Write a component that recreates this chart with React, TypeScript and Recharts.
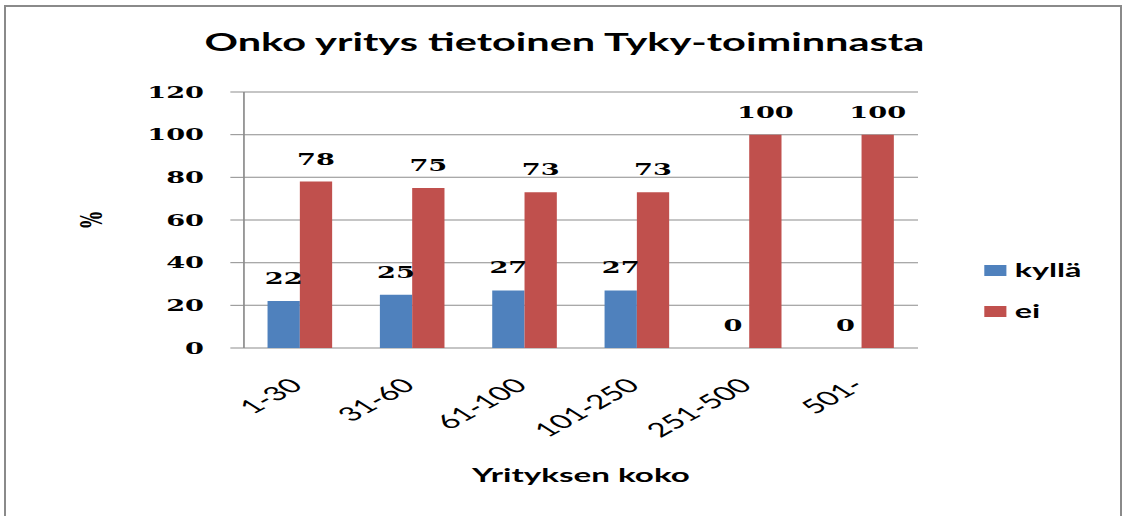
import React from 'react';
import { BarChart, Bar, XAxis, YAxis, CartesianGrid, Legend, LabelList } from 'recharts';

const categories = ['1-30', '31-60', '61-100', '101-250', '251-500', '501-'];
const kyllaValues = [22, 25, 27, 27, 0, 0];
const eiValues = [78, 75, 73, 73, 100, 100];
const yTicks = [0, 20, 40, 60, 80, 100, 120];
const seriesOrder = ['kyllä', 'ei'];
const edgeTicks = categories.map((_, i) => i).concat([categories.length]);

const data = categories.map((name, i) => ({ name, kylla: kyllaValues[i], ei: eiValues[i] }));

const SCALE = 1.7;
const W = 664;
const H = 516;
const GRID = '#8c8c8c';
const BLUE = '#4F81BD';
const RED = '#C0504D';
const NUM_FONT = '"DejaVu Serif", serif';
const SANS = 'Lato, "Open Sans", sans-serif';
const LABEL_OFFSET = 17;

const XTick = (props: any) => {
  const { x, y, payload } = props;
  const ax = x + 2.4;
  return (
    <text x={ax} y={y} transform={`rotate(-43, ${ax}, ${y})`} textAnchor="end" fontFamily={SANS} fontSize={19.5} fill="#000">
      {payload.value}
    </text>
  );
};

const labelText = (cx: number, baseY: number, value: any) => (
  <text x={cx} y={baseY - LABEL_OFFSET} textAnchor="middle" fontFamily={NUM_FONT} fontWeight={700} fontSize={16} fill="#000">
    {String(value)}
  </text>
);

// "ei" value label, above the red bar
const EiLabel = (props: any) => {
  const { x, y, width, value } = props;
  if (x == null || y == null) return null;
  return labelText(Number(x) + Number(width) / 2, Number(y), value);
};

// "kyllä" value label: the blue bar sits directly left of the red bar (barGap 0),
// its top is derived from the red bar's own scale (px per unit = height / ei value).
const KyllaLabel = (props: any) => {
  const { x, y, width, height, value, index } = props;
  if (x == null || y == null) return null;
  const ei = eiValues[index];
  const bottom = Number(y) + Number(height);
  const pxPerUnit = ei ? Number(height) / ei : 0;
  const top = bottom - Number(value) * pxPerUnit;
  return labelText(Number(x) - Number(width) / 2, top, value);
};

const LegendContent = (props: any) => {
  const payload = [...(props.payload || [])].sort(
    (a: any, b: any) => seriesOrder.indexOf(a.value) - seriesOrder.indexOf(b.value)
  );
  return (
    <div>
      {payload.map((p: any) => (
        <div key={p.value} style={{ display: 'flex', alignItems: 'center', height: 20, marginBottom: 21 }}>
          <span style={{ display: 'inline-block', width: 12.5, height: 11, background: p.color }} />
          <span style={{ marginLeft: 5, fontFamily: SANS, fontWeight: 700, fontSize: 19, color: '#000', lineHeight: '20px' }}>{p.value}</span>
        </div>
      ))}
    </div>
  );
};

export default function App() {
  return (
    <div style={{ position: 'absolute', left: 0, top: 0, width: 1128, height: 516, overflow: 'hidden', background: '#fff' }}>
      <div style={{ position: 'absolute', left: 4, top: 5, width: 1118, height: 530, border: '2px solid #8a8a8a', boxSizing: 'border-box' }} />
      <div style={{ position: 'absolute', left: 0, top: 0, width: W, height: H, transform: `scaleX(${SCALE})`, transformOrigin: '0 0' }}>
        <div style={{ position: 'absolute', left: 0, top: 30.4, width: W, textAlign: 'center', fontFamily: SANS, fontWeight: 700, fontSize: 24.4, lineHeight: '24px', color: '#000' }}>
          Onko yritys tietoinen Tyky-toiminnasta
        </div>
        <BarChart width={W} height={H} data={data} margin={{ top: 92, right: 124, bottom: 88, left: 0 }} barGap={0} barCategoryGap="21%">
          <CartesianGrid vertical={false} stroke={GRID} strokeWidth={1} />
          <XAxis
            xAxisId="edges"
            type="number"
            domain={[0, categories.length]}
            ticks={edgeTicks}
            tick={false}
            tickSize={12}
            height={0}
            allowDataOverflow
            axisLine={{ stroke: GRID }}
            tickLine={{ stroke: GRID }}
          />
          <XAxis
            xAxisId={0}
            dataKey="name"
            height={80}
            tickLine={false}
            axisLine={false}
            tickSize={0}
            tickMargin={39}
            interval={0}
            tick={<XTick />}
          />
          <YAxis
            domain={[0, 120]}
            ticks={yTicks}
            width={143.5}
            tickSize={8}
            tickMargin={15.5}
            axisLine={{ stroke: GRID }}
            tickLine={{ stroke: GRID }}
            tick={{ fontFamily: NUM_FONT, fontWeight: 700, fontSize: 16, fill: '#000' }}
            label={{
              content: (p: any) => {
                const vb = p.viewBox || {};
                const cx = (vb.x || 0) + 54;
                const cy = (vb.y || 0) + (vb.height || 0) / 2;
                return (
                  <text x={cx} y={cy} transform={`rotate(-90, ${cx}, ${cy})`} textAnchor="middle" dominantBaseline="central" fontFamily={NUM_FONT} fontWeight={700} fontSize={17} fill="#000">
                    %
                  </text>
                );
              },
            }}
          />
          <Legend
            layout="vertical"
            align="center"
            verticalAlign="middle"
            content={<LegendContent />}
            wrapperStyle={{ left: 579.4, top: 260, width: 80, right: 'auto', bottom: 'auto' }}
          />
          <Bar dataKey="kylla" name="kyllä" fill={BLUE} isAnimationActive={false} />
          <Bar dataKey="ei" name="ei" fill={RED} isAnimationActive={false}>
            <LabelList dataKey="kylla" content={KyllaLabel} />
            <LabelList dataKey="ei" content={EiLabel} />
          </Bar>
        </BarChart>
        <div style={{ position: 'absolute', left: 143.5, top: 464.7, width: 396.5, textAlign: 'center', fontFamily: SANS, fontWeight: 700, fontSize: 19.5, lineHeight: '19.5px', color: '#000' }}>
          Yrityksen koko
        </div>
      </div>
    </div>
  );
}
